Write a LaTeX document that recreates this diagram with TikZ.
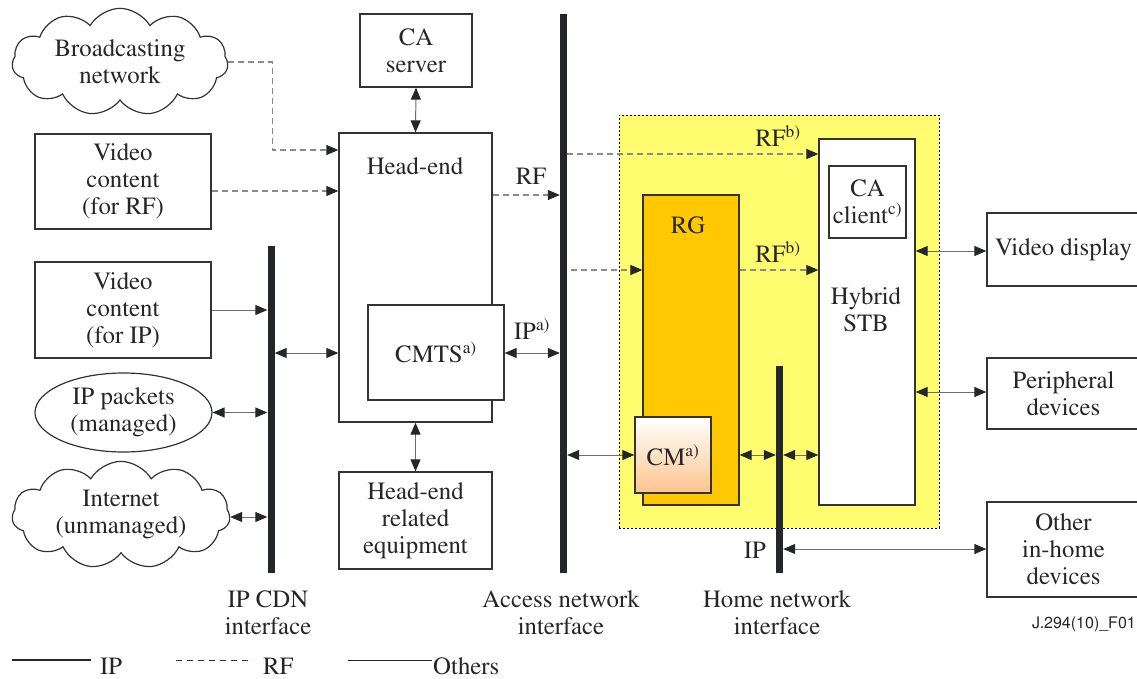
\documentclass[tikz,border=0pt]{standalone}
\usepackage[T1]{fontenc}
\renewcommand{\rmdefault}{ptm}
\renewcommand{\sfdefault}{phv}
\usetikzlibrary{arrows.meta,shapes.geometric,shapes.symbols}
\definecolor{ink}{HTML}{333333}
\definecolor{barc}{HTML}{24272A}
\definecolor{wire}{HTML}{6E6E6E}
\definecolor{rfwire}{HTML}{8A8A8A}
\definecolor{homey}{HTML}{FFFC70}
\definecolor{rgor}{HTML}{FFC800}
\definecolor{cmpeach}{HTML}{FDC48E}
\begin{document}
\begin{tikzpicture}[x=1pt,y=-1pt,
  >={Triangle[length=12pt,width=10pt,color=barc]},
  txt/.style={font=\rmfamily\fontsize{24.8}{27}\selectfont, align=center, inner sep=0pt, text=black!85},
  box/.style={txt, draw=ink, line width=1.3pt, fill=white},
  bar/.style={fill=barc, minimum width=7pt, inner sep=0pt, draw=none},
  link/.style={draw=wire, line width=1pt},
  rf/.style={draw=rfwire, line width=1.2pt, dash pattern=on 6pt off 4pt},
  netcloud/.style={txt, cloud, draw=ink, line width=1.2pt, fill=white, cloud puffs=11, cloud puff arc=120, aspect=2.3},
]
\useasboundingbox (0,0) rectangle (1137,679);

% home domain
\node[draw=black, dash pattern=on 2pt off 2pt, line width=0.8pt, fill=homey,
      minimum width=320pt, minimum height=413pt, inner sep=0pt] (home) at (779,321.5) {};

% sources
\node[netcloud, minimum width=216pt, minimum height=95pt] (bcast) at (120,62) {Broadcasting\\network};
\node[box, minimum width=176pt, minimum height=95pt] (vrf) at (123,181.5) {Video\\content\\(for RF)};
\node[box, minimum width=176pt, minimum height=96pt] (vip) at (123,310) {Video\\content\\(for IP)};
\node[txt, ellipse, draw=ink, line width=1.2pt, fill=white, minimum width=177pt, minimum height=79pt] (ippk) at (123.5,412.5) {IP packets\\(managed)};
\node[netcloud, minimum width=218pt, minimum height=95pt] (inet) at (121,515) {Internet\\(unmanaged)};

% head-end side
\node[box, minimum width=112pt, minimum height=73pt] (ca) at (416,50.5) {CA\\server};
\node[box, minimum width=153pt, minimum height=289pt] (he) at (415.5,277.5) {};
\node[txt] (hetxt) at (415,166) {Head-end};
\node[box, minimum width=136pt, minimum height=95pt] (cmts) at (436,352.5) {CMTS\textsuperscript{a)}};
\node[box, minimum width=153pt, minimum height=97pt] (her) at (415.5,520.5) {Head-end\\related\\equipment};

% home devices
\node[box, draw=ink, fill=rgor, minimum width=96pt, minimum height=310pt] (rg) at (691,350) {};
\node[txt] (rgtxt) at (688,225) {RG};
\node[box, top color=white, bottom color=cmpeach, minimum width=76pt, minimum height=76pt] (cm) at (673,455) {CM\textsuperscript{a)}};
\node[box, minimum width=96pt, minimum height=366pt] (stb) at (867,322) {};
\node[box, minimum width=77pt, minimum height=72pt] (cac) at (867.5,202) {CA\\client\textsuperscript{c)}};
\node[txt] (stbtxt) at (866,310) {Hybrid\\STB};

\node[box, minimum width=153pt, minimum height=73pt] (vd) at (1063.5,249.5) {Video display};
\node[box, minimum width=153pt, minimum height=71pt] (per) at (1063.5,393.5) {Peripheral\\devices};
\node[box, minimum width=153pt, minimum height=95pt] (oth) at (1063.5,549.5) {Other\\in-home\\devices};

% interface bars
\node[bar, minimum height=327pt] (cdn) at (271,409.5) {};
\node[bar, minimum height=559pt] (acc) at (563.5,293.5) {};
\node[bar, minimum height=207pt] (hbar) at (779.5,469.5) {};

% connectors: sources to head-end
\draw[rf,->] (bcast.east) -- ++(44,0) |- (he.west |- 0,150);
\draw[rf,->] (vrf.east |- 0,191) -- (he.west |- 0,191);
\draw[link,->] (vip.east) -- (cdn.west |- vip.east);
\draw[link,<->] (cdn.east |- 0,353) -- (he.west |- 0,353);
\draw[link,<->] (ippk.east) -- (cdn.west |- ippk.east);
\draw[link,<->] (inet.east |- 0,517) -- (cdn.west |- 0,517);
\draw[link,<->] (ca.south) -- (he.north);
\draw[link,<->] (he.south) -- (her.north);

% head-end to access network
\draw[rf,->] (he.east |- 0,195) -- (acc.west |- 0,195);
\node[txt] (rflbl) at (531,176) {RF};
\draw[link,<->] (cmts.east |- 0,353) -- (acc.west |- 0,353);
\node[txt] (iplbl) at (532,329) {IP\textsuperscript{a)}};

% access network to home
\draw[rf,->] (acc.east |- 0,154) -- (stb.west |- 0,154);
\node[txt] (rfb1) at (778,136) {RF\textsuperscript{b)}};
\draw[rf,->] ([xshift=4pt]acc.east |- 0,270) -- (rg.west |- 0,270);
\draw[rf,->] (rg.east |- 0,270) -- (stb.west |- 0,270);
\node[txt] (rfb2) at (778,252) {RF\textsuperscript{b)}};
\draw[link,<->] (acc.east |- 0,455) -- (cm.west |- 0,455);
\draw[link,<->] (rg.east |- 0,455) -- (hbar.west |- 0,455);
\draw[link,<->] (hbar.east |- 0,455) -- (stb.west |- 0,455);
\draw[link,<->] (stb.east |- 0,251) -- (vd.west |- 0,251);
\draw[link,<->] (stb.east |- 0,392) -- (per.west |- 0,392);
\draw[link,<->] (hbar.east |- 0,549) -- (oth.west |- 0,549);
\node[txt] (iphome) at (755,550) {IP};

% interface names
\node[txt] (cdnname) at (268,613) {IP CDN\\interface};
\node[txt] (accname) at (561,613) {Access network\\interface};
\node[txt] (homename) at (777,613) {Home network\\interface};
\node[anchor=west, inner sep=0pt, font=\sffamily\fontsize{16}{18}\selectfont, text=black!85] (figid) at (1032,624) {J.294(10)\_F01};

% legend
\coordinate (l1a) at (12,660); \coordinate (l1b) at (91,660);
\coordinate (l2a) at (176,660); \coordinate (l2b) at (253,660);
\coordinate (l3a) at (348,660); \coordinate (l3b) at (432,660);
\draw[draw=black!85, line width=1.3pt] (l1a) -- (l1b);
\draw[draw=black!80, line width=1pt, dash pattern=on 6pt off 5pt] (l2a) -- (l2b);
\draw[draw=black!85, line width=1pt] (l3a) -- (l3b);
\node[txt, anchor=base west] (legip) at (100,674) {IP};
\node[txt, anchor=base west] (legrf) at (263,674) {RF};
\node[txt, anchor=base west] (legot) at (433,674) {Others};
\end{tikzpicture}
\end{document}
